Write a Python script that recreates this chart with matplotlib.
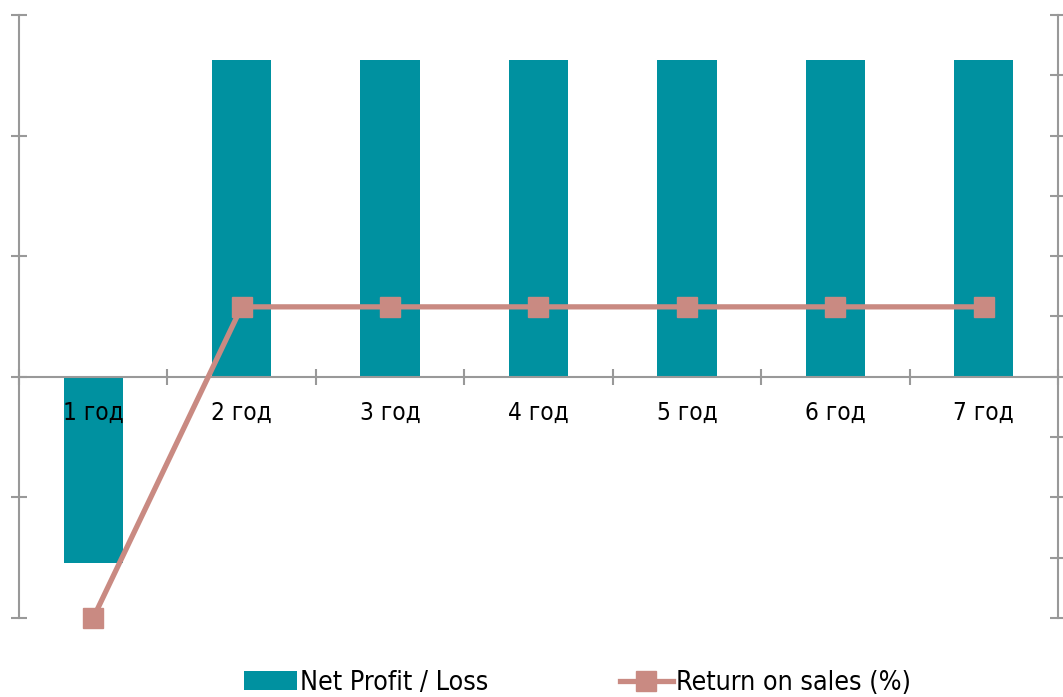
import matplotlib.pyplot as plt
from matplotlib.ticker import MultipleLocator, NullFormatter
import numpy as np

# chart data
years = ['1 год', '2 год', '3 год', '4 год', '5 год', '6 год', '7 год']
net_profit = [-1.54, 2.63, 2.63, 2.63, 2.63, 2.63, 2.63]
return_on_sales = [-40, 11.6, 11.6, 11.6, 11.6, 11.6, 11.6]

bar_color = '#0091A0'
line_color = '#C98A82'
axis_color = '#999999'

fig = plt.figure(figsize=(10.63, 6.97), dpi=100)
ax = fig.add_axes([19 / 1063, 79 / 697, (1058 - 19) / 1063, (618 - 15) / 697])
x = np.arange(len(years))

ax.bar(x, net_profit, width=0.4, color=bar_color, label='Net Profit / Loss', zorder=2)
ax.set_axisbelow(False)  # category labels sit on top of the bars
ax.set_xlim(-0.5, len(years) - 0.5)
ax.set_ylim(-2, 3)
ax.yaxis.set_major_locator(MultipleLocator(1))
ax.yaxis.set_major_formatter(NullFormatter())

# category axis sits on zero
ax.spines['bottom'].set_position(('data', 0))
ax.spines['top'].set_visible(False)
ax.spines['right'].set_visible(False)
for s in ('left', 'bottom'):
    ax.spines[s].set_color(axis_color)
    ax.spines[s].set_linewidth(1.5)
ax.set_xticks(x)
ax.set_xticklabels(years, fontsize=17.5, fontstretch='condensed')
ax.set_xticks(np.arange(-0.5, len(years), 1), minor=True)
ax.tick_params(axis='x', which='major', length=0, pad=17)
ax.tick_params(axis='x', which='minor', direction='inout', length=12, width=1.5, color=axis_color)
ax.tick_params(axis='y', direction='inout', length=12, width=1.5, color=axis_color)

ax2 = ax.twinx()
ax2.plot(x, return_on_sales, color=line_color, lw=3.8, marker='s', markersize=14.5,
         label='Return on sales (%)', zorder=3, clip_on=False)
ax2.set_ylim(-40, 60)
ax2.yaxis.set_major_locator(MultipleLocator(10))
ax2.yaxis.set_major_formatter(NullFormatter())
for s in ('top', 'bottom', 'left'):
    ax2.spines[s].set_visible(False)
ax2.spines['right'].set_color(axis_color)
ax2.spines['right'].set_linewidth(1.5)
ax2.tick_params(axis='y', direction='inout', length=12, width=1.5, color=axis_color)

h1, l1 = ax.get_legend_handles_labels()
h2, l2 = ax2.get_legend_handles_labels()
fig.legend(h1 + h2, l1 + l2, loc='center', bbox_to_anchor=(0.543, 0.02), ncol=2,
           frameon=False, prop={'size': 19.3, 'stretch': 'condensed'},
           handlelength=2.0, handletextpad=0.1, columnspacing=4.9)

fig.savefig('out.png', dpi=100)
